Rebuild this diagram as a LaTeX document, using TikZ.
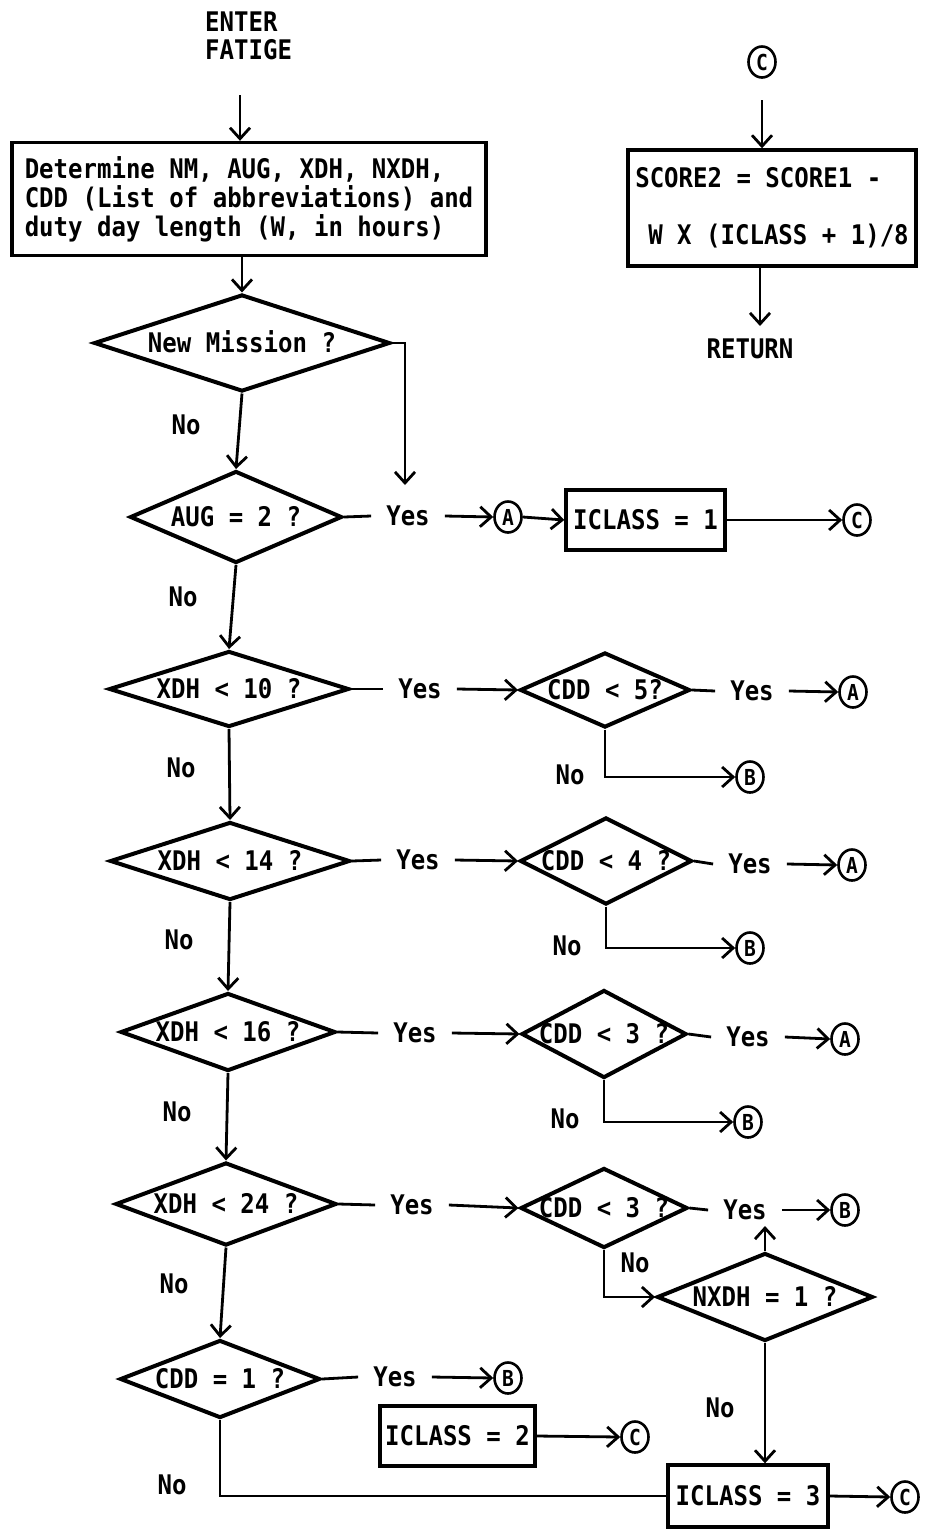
\documentclass[tikz,border=0pt]{standalone}
\usepackage{fontspec}
\newfontfamily\tw{DejaVu Sans Mono}[FakeStretch=0.89]
\usetikzlibrary{shapes.geometric,arrows.meta}
\newcommand\dtxt[1]{\makebox[0pt]{\raisebox{-.365em}[0pt][0pt]{#1}}}
\begin{document}
\begin{tikzpicture}[x=1pt,y=-1pt,
  base/.style={font=\tw\bfseries\fontsize{27}{29}\selectfont},
  box/.style={draw, rectangle, line width=3.4pt, inner sep=0pt, base},
  dia/.style={draw, diamond, line width=4pt, inner sep=0pt, base},
  circ/.style={draw, ellipse, line width=2.6pt, minimum width=27pt, minimum height=31pt, inner sep=0pt, font=\tw\bfseries\fontsize{22}{22}\selectfont},
  lab/.style={base, inner sep=0pt},
  yes/.style={base, inner xsep=15pt, inner ysep=0pt},
  ln/.style={line width=2.8pt},
  arr/.style={ln, -{Straight Barb[length=11pt,width=20pt]}}]
\useasboundingbox (0,0) rectangle (928,1529);

% --- entry
\node[lab, anchor=west, align=left, font=\tw\bfseries\fontsize{27}{28}\selectfont] (enter) at (205,36) {ENTER\\FATIGE};
\coordinate (e1) at (240,95);
\node[box, minimum width=474pt, minimum height=113pt, align=left] (det) at (249,199) {Determine NM, AUG, XDH, NXDH,\\CDD (List of abbreviations) and\\duty day length (W, in hours)};
\draw[arr] (e1) -- (e1 |- det.north);

% --- score box
\node[circ] (c0) at (762,62) {C};
\coordinate (c0a) at (762,100);
\node[box, minimum width=288pt, minimum height=116pt, align=left, font=\tw\bfseries\fontsize{27}{57}\selectfont] (sc) at (772,208) {SCORE2 = SCORE1 -\\\hspace*{13pt}W X (ICLASS + 1)/8};
\draw[arr] (c0a) -- (c0a |- sc.north);
\coordinate (r0) at (760,326);
\draw[arr] (r0 |- sc.south) -- (r0);
\node[lab] (ret) at (750,349) {RETURN};

% --- new mission
\node[dia, minimum width=296pt, minimum height=97pt] (nm) at (242,343) {\dtxt{New Mission ?}};
\draw[arr] (det.south -| nm.north) -- (nm.north);
\coordinate (nmy) at (405,485);
\draw[arr] (nm.east) -| (nmy);
\node[lab] (no1) at (186,425) {No};

% --- AUG = 2
\node[dia, minimum width=212pt, minimum height=92pt] (aug) at (236,517) {\dtxt{AUG = 2 ?}};
\draw[arr] (nm.south) -- (aug.north);
\node[yes] (yaug) at (408,516) {Yes};
\node[circ] (ca1) at (508,517) {A};
\node[box, minimum width=159pt, minimum height=60pt] (ic1) at (645.5,520) {ICLASS = 1};
\node[circ] (cc1) at (857,520) {C};
\draw[ln] (aug.east) -- (yaug.west);
\draw[arr] (yaug.east) -- (ca1.west);
\draw[arr] (ca1.east) -- (ic1.west);
\draw[arr] (ic1.east) -- (cc1.west);
\node[lab] (no2) at (183,597) {No};

% --- XDH < 10
\node[dia, minimum width=240pt, minimum height=76pt] (x10) at (229,689) {\dtxt{XDH < 10 ?}};
\draw[arr] (aug.south) -- (x10.north);
\node[yes] (y10) at (420,689) {Yes};
\node[dia, minimum width=170pt, minimum height=75pt] (c5) at (605,690) {\dtxt{CDD < 5?}};
\node[yes] (y5) at (752,691) {Yes};
\node[circ] (a5) at (853,692) {A};
\node[circ] (b5) at (750,777) {B};
\node[lab] (n5) at (570,775) {No};
\draw[ln] (x10.east) -- (y10.west);
\draw[arr] (y10.east) -- (c5.west);
\draw[ln] (c5.east) -- (y5.west);
\draw[arr] (y5.east) -- (a5.west);
\draw[arr] (c5.south) |- (b5.west);
\node[lab] (no3) at (181,768) {No};

% --- XDH < 14
\node[dia, minimum width=240pt, minimum height=78pt] (x14) at (230,861) {\dtxt{XDH < 14 ?}};
\draw[arr] (x10.south) -- (x14.north);
\node[yes] (y14) at (418,860) {Yes};
\node[dia, minimum width=172pt, minimum height=87pt] (c4) at (606,861) {\dtxt{CDD < 4 ?}};
\node[yes] (y4) at (750,864) {Yes};
\node[circ] (a4) at (852,865) {A};
\node[circ] (b4) at (750,948) {B};
\node[lab] (n4) at (567,946) {No};
\draw[ln] (x14.east) -- (y14.west);
\draw[arr] (y14.east) -- (c4.west);
\draw[ln] (c4.east) -- (y4.west);
\draw[arr] (y4.east) -- (a4.west);
\draw[arr] (c4.south) |- (b4.west);
\node[lab] (no4) at (179,940) {No};

% --- XDH < 16
\node[dia, minimum width=215pt, minimum height=78pt] (x16) at (228,1032) {\dtxt{XDH < 16 ?}};
\draw[arr] (x14.south) -- (x16.north);
\node[yes] (y16) at (415,1033) {Yes};
\node[dia, minimum width=165pt, minimum height=88pt] (c3a) at (604,1034) {\dtxt{CDD < 3 ?}};
\node[yes] (y3a) at (748,1037) {Yes};
\node[circ] (a3) at (845,1039) {A};
\node[circ] (b3) at (748,1122) {B};
\node[lab] (n3) at (565,1119) {No};
\draw[ln] (x16.east) -- (y16.west);
\draw[arr] (y16.east) -- (c3a.west);
\draw[ln] (c3a.east) -- (y3a.west);
\draw[arr] (y3a.east) -- (a3.west);
\draw[arr] (c3a.south) |- (b3.west);
\node[lab] (no5) at (177,1112) {No};

% --- XDH < 24
\node[dia, minimum width=221pt, minimum height=83pt] (x24) at (226,1204) {\dtxt{XDH < 24 ?}};
\draw[arr] (x16.south) -- (x24.north);
\node[yes] (y24) at (412,1205) {Yes};
\node[dia, minimum width=167pt, minimum height=80pt] (c3b) at (604,1208) {\dtxt{CDD < 3 ?}};
\node[yes] (y3b) at (745,1210) {Yes};
\node[circ] (b3b) at (845,1210) {B};
\draw[ln] (x24.east) -- (y24.west);
\draw[arr] (y24.east) -- (c3b.west);
\draw[ln] (c3b.east) -- (y3b.west);
\draw[arr] (y3b.east) -- (b3b.west);
\node[lab] (n3b) at (635,1263) {No};
\node[dia, minimum width=216pt, minimum height=88pt] (nx) at (765,1297) {\dtxt{NXDH = 1 ?}};
\draw[arr] (c3b.south) |- (nx.west);
\coordinate (nxu) at (765,1226);
\draw[arr] (nx.north) -- (nxu);
\node[lab] (nnx) at (720,1408) {No};
\node[lab] (no6) at (174,1284) {No};

% --- CDD = 1
\node[dia, minimum width=200pt, minimum height=78pt] (c1) at (220,1379) {\dtxt{CDD = 1 ?}};
\draw[arr] (x24.south) -- (c1.north);
\node[yes] (y1) at (395,1377) {Yes};
\node[circ] (b1) at (508,1378) {B};
\draw[ln] (c1.east) -- (y1.west);
\draw[arr] (y1.east) -- (b1.west);
\node[box, minimum width=155pt, minimum height=60pt] (ic2) at (457.5,1436) {ICLASS = 2};
\node[circ] (cc2) at (635,1437) {C};
\draw[arr] (ic2.east) -- (cc2.west);
\node[lab] (no7) at (172,1485) {No};

% --- ICLASS = 3
\node[box, minimum width=160pt, minimum height=62pt] (ic3) at (748,1496) {ICLASS = 3};
\node[circ] (cc3) at (905,1497) {C};
\draw[arr] (ic3.east) -- (cc3.west);
\draw[arr] (nx.south) -- (nx.south |- ic3.north);
\draw[ln] (c1.south) |- (ic3.west);
\end{tikzpicture}
\end{document}
